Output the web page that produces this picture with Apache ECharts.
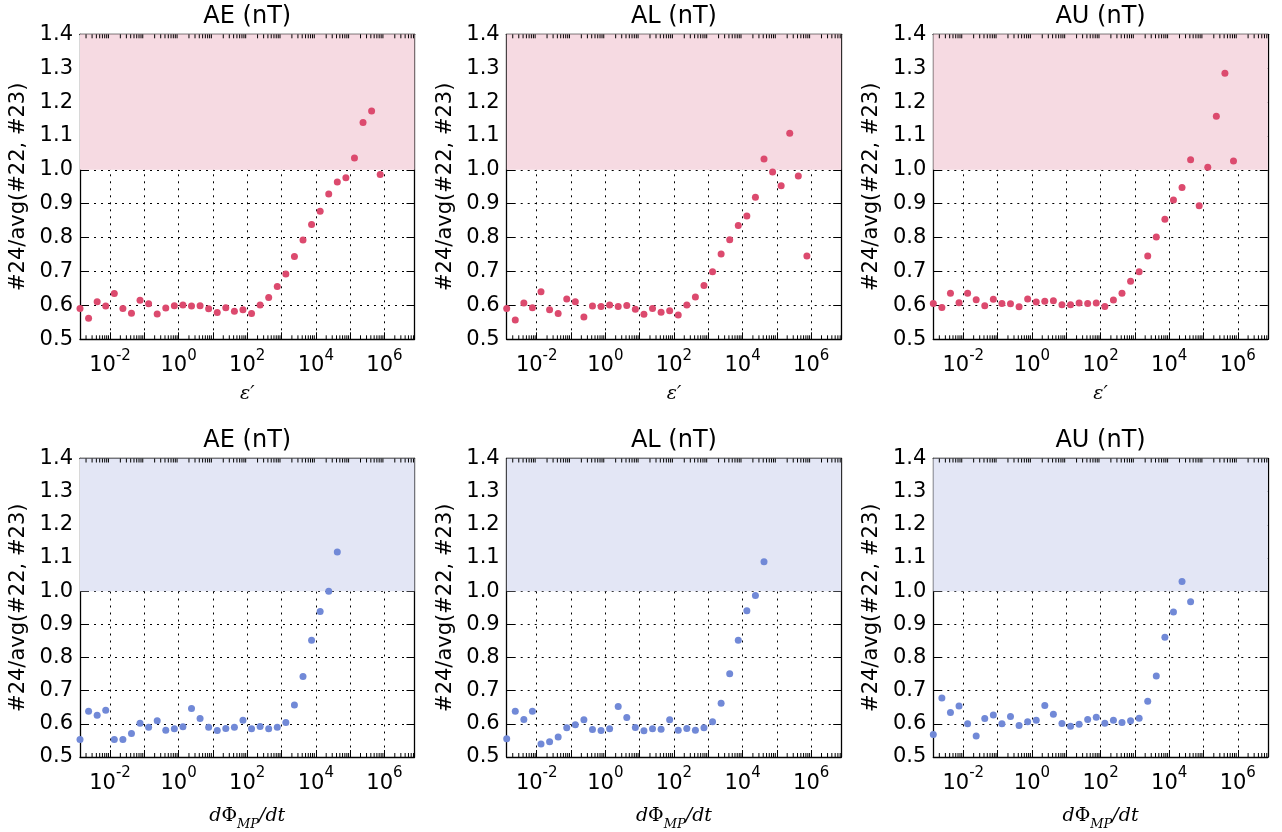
<!DOCTYPE html>
<html>
<head>
<meta charset="utf-8">
<script src="https://cdn.jsdelivr.net/npm/echarts@6/dist/echarts.min.js"></script>
<style>
  html, body { margin: 0; padding: 0; background: #ffffff; }
  #chart { width: 1282px; height: 832px; }
</style>
</head>
<body>
<div id="chart"></div>
<script>
// ---- data (x = log10 of bin centre) ----
const logX = [-2.875, -2.625, -2.375, -2.125, -1.875, -1.625, -1.375, -1.125, -0.875, -0.625,
              -0.375, -0.125, 0.125, 0.375, 0.625, 0.875, 1.125, 1.375, 1.625, 1.875,
              2.125, 2.375, 2.625, 2.875, 3.125, 3.375, 3.625, 3.875, 4.125, 4.375,
              4.625, 4.875, 5.125, 5.375, 5.625, 5.875];

const titles = ['AE (nT)', 'AL (nT)', 'AU (nT)'];

const aeEps = [0.591, 0.562, 0.611, 0.598, 0.635, 0.591, 0.577, 0.615, 0.605, 0.575, 0.592, 0.599,
               0.601, 0.598, 0.599, 0.590, 0.579, 0.593, 0.583, 0.587, 0.576, 0.601, 0.623, 0.656,
               0.693, 0.744, 0.793, 0.839, 0.878, 0.929, 0.964, 0.977, 1.035, 1.140, 1.174, 0.986];
const alEps = [0.591, 0.557, 0.607, 0.593, 0.640, 0.587, 0.576, 0.619, 0.611, 0.566, 0.598, 0.597,
               0.601, 0.597, 0.600, 0.589, 0.574, 0.591, 0.580, 0.584, 0.572, 0.601, 0.625, 0.659,
               0.699, 0.752, 0.794, 0.836, 0.864, 0.919, 1.032, 0.994, 0.953, 1.108, 0.982, 0.746];
const auEps = [0.606, 0.594, 0.636, 0.608, 0.636, 0.617, 0.599, 0.618, 0.606, 0.605, 0.596, 0.619,
               0.610, 0.612, 0.614, 0.602, 0.602, 0.607, 0.606, 0.607, 0.597, 0.616, 0.636, 0.671,
               0.699, 0.746, 0.802, 0.854, 0.911, 0.948, 1.030, 0.894, 1.008, 1.158, 1.285, 1.026];

const aePhi = [0.553, 0.638, 0.626, 0.641, 0.553, 0.553, 0.571, 0.602, 0.590, 0.609, 0.581, 0.585,
               0.591, 0.646, 0.616, 0.590, 0.580, 0.586, 0.590, 0.611, 0.585, 0.592, 0.585, 0.590,
               0.604, 0.657, 0.743, 0.852, 0.939, 1.000, 1.118];
const alPhi = [0.555, 0.638, 0.613, 0.638, 0.539, 0.546, 0.560, 0.588, 0.597, 0.612, 0.583, 0.580,
               0.585, 0.652, 0.619, 0.589, 0.579, 0.585, 0.584, 0.612, 0.581, 0.586, 0.581, 0.588,
               0.606, 0.662, 0.751, 0.852, 0.941, 0.987, 1.089];
const auPhi = [0.568, 0.678, 0.634, 0.654, 0.600, 0.563, 0.616, 0.627, 0.600, 0.622, 0.595, 0.606,
               0.611, 0.655, 0.629, 0.601, 0.593, 0.599, 0.613, 0.620, 0.602, 0.611, 0.604, 0.609,
               0.617, 0.668, 0.744, 0.861, 0.937, 1.029, 0.968];

const yTicks = ['0.5', '0.6', '0.7', '0.8', '0.9', '1.0', '1.1', '1.2', '1.3', '1.4'];
const bandRange = [1.0, 1.4];
const xMin = -2.875, xMax = 6.875;

// ---- layout ----
const lefts = [80, 506.7, 933.3];
const tops = [34.3, 458.5];
const W = 334.5, H = 305;
const FONT = 'DejaVu Sans';

const panels = [
  { vals: aeEps, row: 0, col: 0 }, { vals: alEps, row: 0, col: 1 }, { vals: auEps, row: 0, col: 2 },
  { vals: aePhi, row: 1, col: 0 }, { vals: alPhi, row: 1, col: 1 }, { vals: auPhi, row: 1, col: 2 }
];
const rowStyle = [
  { point: '#dc4a6e', band: '#f6dae2' },
  { point: '#7189d7', band: '#e3e6f5' }
];

// minor tick positions (log10 of m*10^n)
const minorTicks = [];
for (let n = -3; n <= 6; n++) {
  for (let m = 2; m <= 9; m++) {
    const v = n + Math.log10(m);
    if (v > xMin && v < xMax) minorTicks.push([v, 1]);
  }
}

const grids = [], xAxes = [], yAxes = [], series = [], titleArr = [];
const dotted = { color: '#000', width: 1, type: [2, 5] };
const black = { color: '#000', width: 1.3 };

panels.forEach((p, i) => {
  grids.push({ left: lefts[p.col], top: tops[p.row], width: W, height: H, containLabel: false });
  titleArr.push({
    text: titles[p.col], left: lefts[p.col] + W / 2, top: tops[p.row] - 30, textAlign: 'left',
    padding: 0,
    textStyle: { fontFamily: FONT, fontSize: 24, fontWeight: 'normal', color: '#000' }
  });
  const xName = p.row === 0 ? '{i|ε′}' : '{i|d}{r|Φ}{sub|MP}{i|/dt}';
  xAxes.push({
    type: 'value', gridIndex: i, min: xMin, max: xMax, splitNumber: 10, position: 'bottom',
    axisLine: { show: true, onZero: false, lineStyle: black },
    axisTick: { show: true, inside: true, length: 7, lineStyle: { color: '#000', width: 1 } },
    splitLine: { show: true, lineStyle: dotted },
    axisLabel: {
      margin: 9, color: '#000',
      formatter: function (v) {
        const n = Math.round(v);
        if (Math.abs(v - n) > 1e-6 || n % 2 !== 0) return '';
        return '{b|10}{s|' + n + '}';
      },
      rich: {
        b: { fontFamily: FONT, fontSize: 21, color: '#000', lineHeight: 28, verticalAlign: 'bottom' },
        s: { fontFamily: FONT, fontSize: 15, color: '#000', lineHeight: 28, verticalAlign: 'top' }
      }
    },
    name: xName, nameLocation: 'middle', nameGap: p.row === 0 ? 43 : 44,
    nameTextStyle: {
      rich: {
        i: { fontFamily: 'DejaVu Serif', fontStyle: 'italic', fontSize: 19, color: '#000', lineHeight: 24 },
        r: { fontFamily: 'DejaVu Serif', fontSize: 19, color: '#000', lineHeight: 24 },
        sub: { fontFamily: 'DejaVu Serif', fontStyle: 'italic', fontSize: 13, color: '#000', lineHeight: 30, verticalAlign: 'bottom' }
      }
    }
  });
  xAxes.push({
    type: 'value', gridIndex: i, min: xMin, max: xMax, splitNumber: 10, position: 'top',
    axisLine: { show: true, onZero: false, lineStyle: black },
    axisTick: { show: true, inside: true, length: 7, lineStyle: { color: '#000', width: 1 } },
    splitLine: { show: false }, axisLabel: { show: false }
  });
  yAxes.push({
    type: 'value', gridIndex: i, min: 0.5, max: 1.4, interval: 0.1, position: 'left',
    axisLine: { show: true, onZero: false, lineStyle: black },
    axisTick: { show: true, inside: true, length: 8, lineStyle: { color: '#000', width: 1 } },
    splitLine: { show: true, lineStyle: dotted },
    axisLabel: {
      margin: 7, color: '#000', fontFamily: FONT, fontSize: 21,
      formatter: function (v) { return yTicks[Math.round((v - 0.5) * 10)] || ''; }
    },
    name: '#24/avg(#22, #23)', nameLocation: 'middle', nameGap: 51, nameRotate: 90,
    nameTextStyle: { fontFamily: FONT, fontSize: 21, color: '#000' }
  });
  yAxes.push({
    type: 'value', gridIndex: i, min: 0.5, max: 1.4, interval: 0.1, position: 'right',
    axisLine: { show: true, onZero: false, lineStyle: black },
    axisTick: { show: true, inside: true, length: 8, lineStyle: { color: '#000', width: 1 } },
    splitLine: { show: false }, axisLabel: { show: false }
  });
  const st = rowStyle[p.row];
  // shaded band (under grid lines)
  series.push({
    type: 'scatter', xAxisIndex: 2 * i, yAxisIndex: 2 * i, data: [], z: -1, silent: true,
    markArea: {
      silent: true, itemStyle: { color: st.band },
      data: [[{ yAxis: bandRange[0] }, { yAxis: bandRange[1] }]]
    }
  });
  // minor ticks for the log axis (top and bottom)
  series.push({
    type: 'custom', xAxisIndex: 2 * i, yAxisIndex: 2 * i, data: minorTicks, silent: true, z: 3,
    renderItem: function (params, api) {
      const cs = params.coordSys;
      const x = api.coord([api.value(0), 1])[0];
      const yb = cs.y + cs.height, yt = cs.y;
      return {
        type: 'group',
        children: [
          { type: 'line', shape: { x1: x, y1: yb, x2: x, y2: yb - 4 }, style: { stroke: '#000', lineWidth: 1 } },
          { type: 'line', shape: { x1: x, y1: yt, x2: x, y2: yt + 4 }, style: { stroke: '#000', lineWidth: 1 } }
        ]
      };
    }
  });
  series.push({
    type: 'scatter', xAxisIndex: 2 * i, yAxisIndex: 2 * i, symbolSize: 7, clip: true, z: 2,
    itemStyle: { color: st.point, opacity: 1 },
    data: p.vals.map((v, k) => [logX[k], v])
  });
});

// centre titles: textAlign via 'center'
titleArr.forEach(t => { t.textAlign = 'center'; });

const chart = echarts.init(document.getElementById('chart'), null, { renderer: 'canvas' });
chart.setOption({
  animation: false,
  backgroundColor: '#ffffff',
  title: titleArr,
  grid: grids,
  xAxis: xAxes,
  yAxis: yAxes,
  series: series
});
</script>
</body>
</html>
